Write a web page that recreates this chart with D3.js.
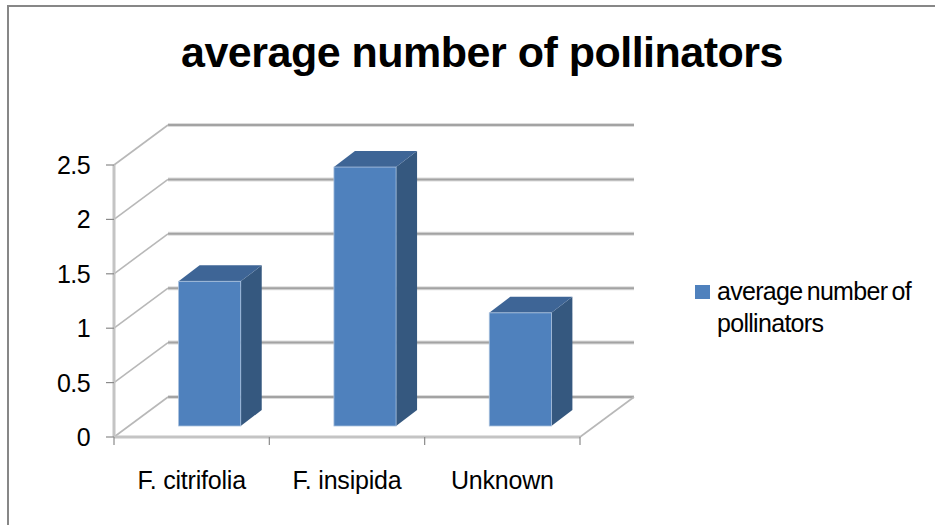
<!DOCTYPE html>
<html>
<head>
<meta charset="utf-8">
<script src="https://cdn.jsdelivr.net/npm/d3@7/dist/d3.min.js"></script>
<style>
  html, body { margin: 0; padding: 0; background: #fff; }
  svg { display: block; font-family: "Liberation Sans", Arial, sans-serif; }
</style>
</head>
<body>
<svg id="chart" width="935" height="525"></svg>
<script>
// Chart data
const categories = ["F. citrifolia", "F. insipida", "Unknown"];
const values = [1.33, 2.38, 1.04];
const seriesName = "average number of pollinators";
const legendLines = ["average number of", "pollinators"];
const yTicks = [0, 0.5, 1, 1.5, 2, 2.5];

const svg = d3.select("#chart");

// Plot geometry: front-left-bottom corner of the 3D box and its depth vector
const x0 = 114, x1 = 580, yBottom = 437, yTop = 165;
const depth = { dx: 54, dy: -40 };
const barFront = { dx: 18, dy: -11 };
const barBack = { dx: 39, dy: -27 };

const x = d3.scaleBand().domain(categories).range([x0, x1])
  .paddingInner(0.6).paddingOuter(0.3);
const xEdges = d3.scaleLinear().domain([0, categories.length]).range([x0, x1]);
const y = d3.scaleLinear().domain([0, 2.5]).range([yBottom, yTop]);

// Outer frame
svg.append("rect")
  .attr("x", 8).attr("y", 6).attr("width", 940).attr("height", 540)
  .attr("fill", "#fff").attr("stroke", "#878787").attr("stroke-width", 2);

// Title
svg.append("text")
  .attr("x", 482).attr("y", 67)
  .attr("text-anchor", "middle")
  .attr("font-weight", "bold")
  .attr("font-size", 43)
  .attr("letter-spacing", -0.5)
  .attr("fill", "#000")
  .text(seriesName);

const walls = svg.append("g");

// Back wall gridlines
yTicks.forEach(v => {
  const yy = y(v) + depth.dy;
  walls.append("line")
    .attr("x1", x0 + depth.dx).attr("x2", x1 + depth.dx)
    .attr("y1", yy).attr("y2", yy)
    .attr("stroke", "#dcdcdc").attr("stroke-width", 4);
  walls.append("line")
    .attr("x1", x0 + depth.dx).attr("x2", x1 + depth.dx)
    .attr("y1", yy).attr("y2", yy)
    .attr("stroke", "#a3a3a3").attr("stroke-width", 2);
});

// Side wall diagonals
yTicks.forEach(v => {
  walls.append("line")
    .attr("x1", x0).attr("y1", y(v))
    .attr("x2", x0 + depth.dx).attr("y2", y(v) + depth.dy)
    .attr("stroke", "#b8b8b8").attr("stroke-width", 1.6);
});

// Floor outline: front edge and right diagonal
walls.append("line")
  .attr("x1", x0).attr("x2", x1).attr("y1", yBottom).attr("y2", yBottom)
  .attr("stroke", "#c4c4c4").attr("stroke-width", 3);
walls.append("line")
  .attr("x1", x1).attr("y1", yBottom)
  .attr("x2", x1 + depth.dx).attr("y2", yBottom + depth.dy)
  .attr("stroke", "#b8b8b8").attr("stroke-width", 1.6);

// Vertical axis line
walls.append("line")
  .attr("x1", x0).attr("x2", x0).attr("y1", y(2.5)).attr("y2", yBottom)
  .attr("stroke", "#c4c4c4").attr("stroke-width", 3);

// Value axis ticks and labels
const yAxis = svg.append("g");
yTicks.forEach(v => {
  yAxis.append("line")
    .attr("x1", x0 - 8).attr("x2", x0).attr("y1", y(v)).attr("y2", y(v))
    .attr("stroke", "#8a8a8a").attr("stroke-width", 1.2);
  yAxis.append("text")
    .attr("x", 90).attr("y", y(v))
    .attr("dy", "0.36em")
    .attr("text-anchor", "end")
    .attr("font-size", 25)
    .attr("letter-spacing", -0.6)
    .attr("fill", "#000")
    .text(v);
});

// Category ticks and labels
const xAxis = svg.append("g");
d3.range(categories.length + 1).forEach(i => {
  xAxis.append("line")
    .attr("x1", xEdges(i)).attr("x2", xEdges(i))
    .attr("y1", yBottom).attr("y2", yBottom + 8)
    .attr("stroke", "#8a8a8a").attr("stroke-width", 1.2);
});
categories.forEach(c => {
  xAxis.append("text")
    .attr("x", x(c) + x.bandwidth() / 2).attr("y", 489)
    .attr("text-anchor", "middle")
    .attr("font-size", 25)
    .attr("letter-spacing", -0.2)
    .attr("fill", "#000")
    .text(c);
});

// 3D bars
const bars = svg.append("g");
categories.forEach((c, i) => {
  const v = values[i];
  const L = x(c), R = x(c) + x.bandwidth();
  const yb = y(0), yt = y(v);
  const f = barFront, b = barBack;
  // side face
  bars.append("path")
    .attr("d", `M${R + f.dx},${yt + f.dy} L${R + b.dx},${yt + b.dy} L${R + b.dx},${yb + b.dy} L${R + f.dx},${yb + f.dy} Z`)
    .attr("fill", "#35587f");
  // top face
  bars.append("path")
    .attr("d", `M${L + f.dx},${yt + f.dy} L${L + b.dx},${yt + b.dy} L${R + b.dx},${yt + b.dy} L${R + f.dx},${yt + f.dy} Z`)
    .attr("fill", "#3e6596");
  // front face
  bars.append("rect")
    .attr("x", L + f.dx).attr("y", yt + f.dy)
    .attr("width", x.bandwidth()).attr("height", yb - yt)
    .attr("fill", "#4f81bd")
    .attr("stroke", "#a9c0dd").attr("stroke-width", 0.8);
});

// Legend
const legend = svg.append("g");
legend.append("rect")
  .attr("x", 695).attr("y", 285).attr("width", 15).attr("height", 14)
  .attr("fill", "#4f81bd");
legendLines.forEach((t, i) => {
  legend.append("text")
    .attr("x", 717).attr("y", 300 + i * 32)
    .attr("font-size", 25)
    .attr("letter-spacing", -0.7)
    .attr("word-spacing", -2)
    .attr("fill", "#000")
    .text(t);
});
</script>
</body>
</html>
